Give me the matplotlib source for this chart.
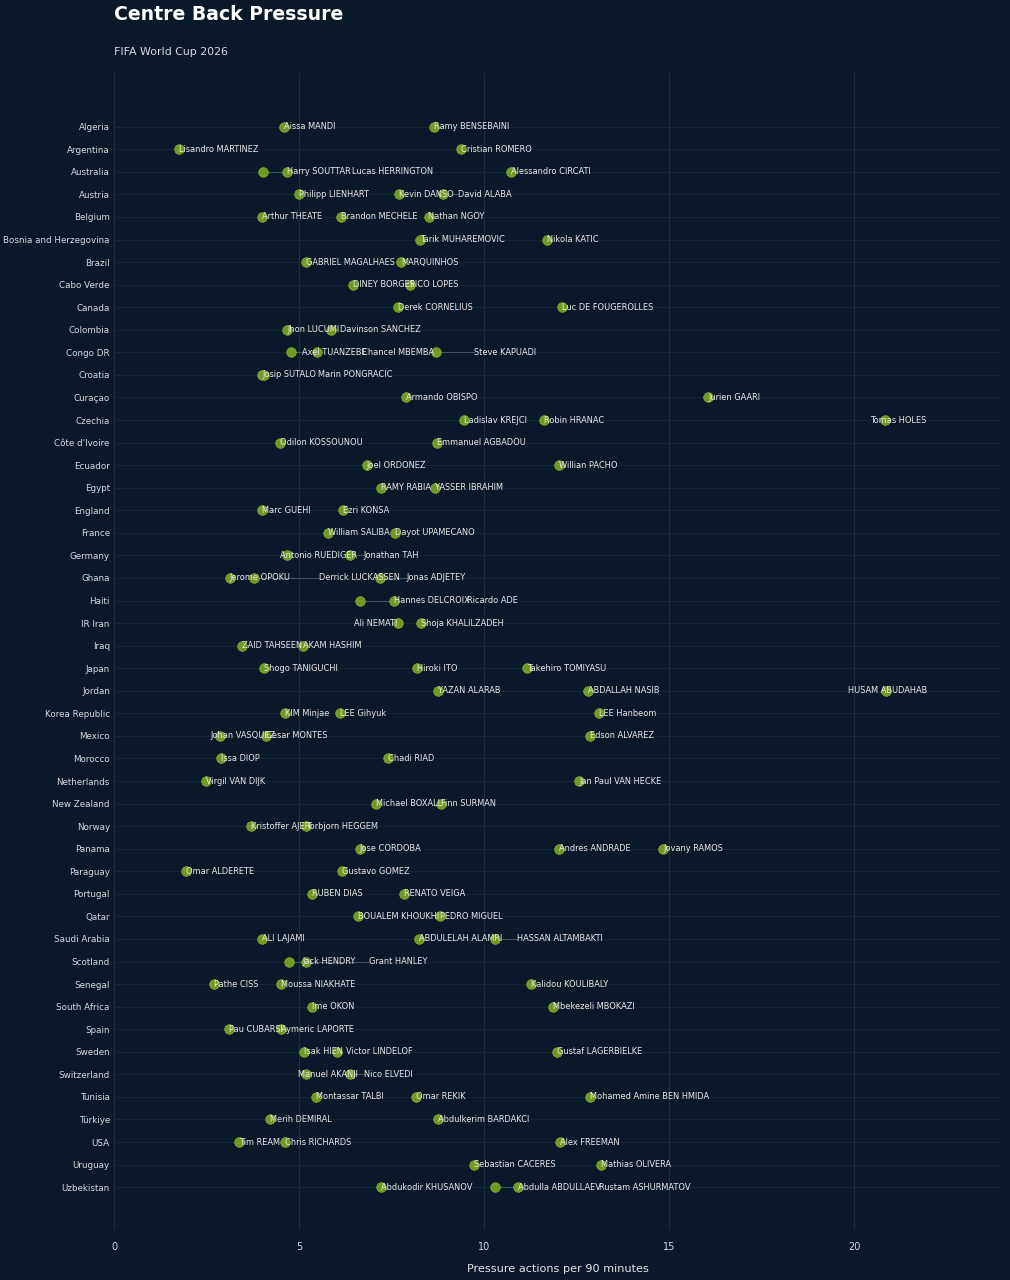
import matplotlib
matplotlib.use("Agg")
import matplotlib.pyplot as plt

countries = [
    "Algeria", "Argentina", "Australia", "Austria", "Belgium", "Bosnia and Herzegovina",
    "Brazil", "Cabo Verde", "Canada", "Colombia", "Congo DR", "Croatia", "Curaçao",
    "Czechia", "Côte d'Ivoire", "Ecuador", "Egypt", "England", "France", "Germany",
    "Ghana", "Haiti", "IR Iran", "Iraq", "Japan", "Jordan", "Korea Republic", "Mexico",
    "Morocco", "Netherlands", "New Zealand", "Norway", "Panama", "Paraguay", "Portugal",
    "Qatar", "Saudi Arabia", "Scotland", "Senegal", "South Africa", "Spain", "Sweden",
    "Switzerland", "Tunisia", "Türkiye", "USA", "Uruguay", "Uzbekistan",
]

players = [
    ["Aissa MANDI", "Ramy BENSEBAINI"],
    ["Lisandro MARTINEZ", "Cristian ROMERO"],
    ["Harry SOUTTAR", "Lucas HERRINGTON", "Alessandro CIRCATI"],
    ["Philipp LIENHART", "Kevin DANSO", "David ALABA"],
    ["Arthur THEATE", "Brandon MECHELE", "Nathan NGOY"],
    ["Tarik MUHAREMOVIC", "Nikola KATIC"],
    ["GABRIEL MAGALHAES", "MARQUINHOS"],
    ["DINEY BORGES", "PICO LOPES"],
    ["Derek CORNELIUS", "Luc DE FOUGEROLLES"],
    ["Jhon LUCUMI", "Davinson SANCHEZ"],
    ["Axel TUANZEBE", "Chancel MBEMBA", "Steve KAPUADI"],
    ["Josip SUTALO", "Marin PONGRACIC"],
    ["Armando OBISPO", "Jurien GAARI"],
    ["Ladislav KREJCI", "Robin HRANAC", "Tomas HOLES"],
    ["Odilon KOSSOUNOU", "Emmanuel AGBADOU"],
    ["Joel ORDONEZ", "Willian PACHO"],
    ["RAMY RABIA", "YASSER IBRAHIM"],
    ["Marc GUEHI", "Ezri KONSA"],
    ["William SALIBA", "Dayot UPAMECANO"],
    ["Antonio RUEDIGER", "Jonathan TAH"],
    ["Jerome OPOKU", "Derrick LUCKASSEN", "Jonas ADJETEY"],
    ["Hannes DELCROIX", "Ricardo ADE"],
    ["Ali NEMATI", "Shoja KHALILZADEH"],
    ["ZAID TAHSEEN", "AKAM HASHIM"],
    ["Shogo TANIGUCHI", "Hiroki ITO", "Takehiro TOMIYASU"],
    ["YAZAN ALARAB", "ABDALLAH NASIB", "HUSAM ABUDAHAB"],
    ["KIM Minjae", "LEE Gihyuk", "LEE Hanbeom"],
    ["Johan VASQUEZ", "Cesar MONTES", "Edson ALVAREZ"],
    ["Issa DIOP", "Chadi RIAD"],
    ["Virgil VAN DIJK", "Jan Paul VAN HECKE"],
    ["Michael BOXALL", "Finn SURMAN"],
    ["Kristoffer AJER", "Torbjorn HEGGEM"],
    ["Jose CORDOBA", "Andres ANDRADE", "Jovany RAMOS"],
    ["Omar ALDERETE", "Gustavo GOMEZ"],
    ["RUBEN DIAS", "RENATO VEIGA"],
    ["BOUALEM KHOUKHI", "PEDRO MIGUEL"],
    ["ALI LAJAMI", "ABDULELAH ALAMRI", "HASSAN ALTAMBAKTI"],
    ["Jack HENDRY", "Grant HANLEY"],
    ["Pathe CISS", "Moussa NIAKHATE", "Kalidou KOULIBALY"],
    ["Ime OKON", "Mbekezeli MBOKAZI"],
    ["Pau CUBARSI", "Aymeric LAPORTE"],
    ["Isak HIEN", "Victor LINDELOF", "Gustaf LAGERBIELKE"],
    ["Manuel AKANJI", "Nico ELVEDI"],
    ["Montassar TALBI", "Omar REKIK", "Mohamed Amine BEN HMIDA"],
    ["Merih DEMIRAL", "Abdulkerim BARDAKCI"],
    ["Tim REAM", "Chris RICHARDS", "Alex FREEMAN"],
    ["Sebastian CACERES", "Mathias OLIVERA"],
    ["Abdukodir KHUSANOV", "Abdulla ABDULLAEV", "Rustam ASHURMATOV"],
]

pressures = [
    [4.59, 8.66],
    [1.75, 9.39],
    [4.02, 4.67, 10.72],
    [4.99, 7.70, 8.90],
    [4.00, 6.13, 8.50],
    [8.26, 11.69],
    [5.18, 7.77],
    [6.45, 7.99],
    [7.67, 12.10],
    [4.68, 5.86],
    [4.78, 5.48, 8.69],
    [4.00, 4.05],
    [7.90, 16.06],
    [9.45, 11.63, 20.84],
    [4.48, 8.72],
    [6.83, 12.04],
    [7.21, 8.67],
    [4.00, 6.18],
    [5.79, 7.60],
    [4.67, 6.37],
    [3.13, 3.78, 7.18],
    [6.64, 7.58],
    [7.67, 8.29],
    [3.45, 5.11],
    [4.05, 8.18, 11.15],
    [8.75, 12.81, 20.86],
    [4.62, 6.10, 13.12],
    [2.86, 4.11, 12.87],
    [2.89, 7.40],
    [2.48, 12.58],
    [7.07, 8.85],
    [3.70, 5.18],
    [6.64, 12.04, 14.84],
    [1.94, 6.15],
    [5.34, 7.85],
    [6.59, 8.80],
    [3.99, 8.24, 10.30],
    [4.74, 5.20],
    [2.70, 4.52, 11.27],
    [5.34, 11.87],
    [3.10, 4.52],
    [5.14, 6.03, 11.96],
    [5.19, 6.38],
    [5.46, 8.17, 12.86],
    [4.22, 8.76],
    [3.39, 4.63, 12.05],
    [9.74, 13.17],
    [7.21, 10.30, 10.93],
]

# label shifts (data units) where names were pushed apart to avoid overlap
label_shift = {
    "Harry SOUTTAR": 0.65, "Lucas HERRINGTON": 1.77, "David ALABA": 0.40,
    "Davinson SANCHEZ": 0.24, "Axel TUANZEBE": 0.31, "Chancel MBEMBA": 1.21,
    "Steve KAPUADI": 1.04, "Marin PONGRACIC": 1.46, "Antonio RUEDIGER": -0.19,
    "Jonathan TAH": 0.38, "Derrick LUCKASSEN": 1.75, "Jonas ADJETEY": 0.73,
    "Hannes DELCROIX": 0.94, "Ricardo ADE": 1.95, "Ali NEMATI": -1.17,
    "HUSAM ABUDAHAB": -1.02, "Tomas HOLES": -0.41, "Johan VASQUEZ": -0.24,
    "HASSAN ALTAMBAKTI": 0.60, "Jack HENDRY": 0.36, "Grant HANLEY": 1.68,
    "Victor LINDELOF": 0.23, "Manuel AKANJI": -0.22, "Nico ELVEDI": 0.37,
    "Abdulla ABDULLAEV": 0.63, "Rustam ASHURMATOV": 2.17,
}
no_leader = {"Lucas HERRINGTON", "Chancel MBEMBA", "Ricardo ADE",
             "Rustam ASHURMATOV", "Marin PONGRACIC"}

bg = "#0a1929"
dot = "#6f9a24"
fig = plt.figure(figsize=(10.1, 12.8), dpi=100, facecolor=bg)
ax = fig.add_axes([114 / 1010, 50 / 1280, 888 / 1010, 1157 / 1280], facecolor=bg)

n = len(countries)
for i, (names, vals) in enumerate(zip(players, pressures)):
    y = n - 1 - i
    for name, v in zip(names, vals):
        dx = label_shift.get(name, 0.0)
        if dx > 0.3 and name not in no_leader:
            ax.plot([v, v + dx], [y, y], color="#7d8c99", lw=0.8, alpha=0.45, zorder=2)
        ax.scatter(v, y, s=48, color=dot, edgecolors="#86b02e", linewidths=0.5, zorder=3)
        ax.text(v + dx, y, name, color="#e8e8e8", fontsize=5.95, va="center", ha="left", zorder=4)

ax.set_xlim(0, 24)
ax.set_ylim(-1.9, n - 1 + 2.38)
ax.set_yticks(range(n))
ax.set_yticklabels(countries[::-1])
ax.set_xticks([0, 5, 10, 15, 20])
ax.tick_params(axis="both", length=0, colors="#d6dade", labelsize=6.3)
ax.tick_params(axis="y", pad=3)
ax.tick_params(axis="x", labelsize=7, pad=9)
ax.grid(True, axis="x", color="#1c2d3d", lw=0.8)
ax.grid(True, axis="y", color="#142535", lw=0.8)
ax.set_axisbelow(True)
for s in ax.spines.values():
    s.set_visible(False)
ax.set_xlabel("Pressure actions per 90 minutes", color="#e6e6e6", fontsize=8.1, labelpad=8)

fig.text(114 / 1010, 1 - 14 / 1280, "Centre Back Pressure", color="white", fontsize=13.6,
         fontweight="bold", va="center", ha="left")
fig.text(114 / 1010, 1 - 52 / 1280, "FIFA World Cup 2026", color="#d6dade", fontsize=7.9,
         va="center", ha="left")

fig.savefig("out.png", dpi=100, facecolor=bg)
